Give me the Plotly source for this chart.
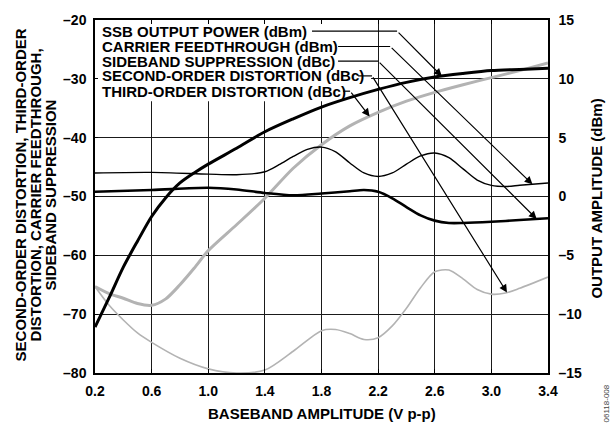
import numpy as np
import plotly.graph_objects as go

# ---------------- data ----------------
ssb_x = [0.2, 0.3, 0.4, 0.5, 0.6, 0.7, 0.8, 0.9, 1.0, 1.2, 1.4, 1.6, 1.8, 2.0, 2.2, 2.4, 2.6, 2.8, 3.0, 3.2, 3.4]
ssb_dbm = [-11.1, -8.6, -6.0, -3.8, -1.7, -0.1, 1.15, 2.0, 2.75, 4.1, 5.5, 6.6, 7.6, 8.4, 9.1, 9.7, 10.15, 10.45,
           10.7, 10.8, 10.9]

third_x = [0.2, 0.3, 0.4, 0.5, 0.6, 0.7, 0.8, 0.9, 1.0, 1.2, 1.4, 1.6, 1.8, 2.0, 2.2, 2.4, 2.6, 2.8, 3.0, 3.2, 3.4]
third_dbc = [-65.3, -66.5, -67.3, -68.2, -68.5, -67.4, -65.0, -62.2, -59.2, -54.8, -50.3, -45.2, -41.2, -38.0,
             -35.7, -33.8, -32.3, -31.0, -29.8, -28.6, -27.3]

second_x = [0.2, 0.3, 0.4, 0.5, 0.6, 0.8, 1.0, 1.2, 1.4, 1.6, 1.8, 1.9, 2.0, 2.1, 2.2, 2.3, 2.4, 2.5, 2.6, 2.7,
            2.8, 2.9, 3.0, 3.1, 3.2, 3.4]
second_dbc = [-65.3, -68.5, -71.0, -73.2, -74.8, -77.5, -79.3, -80.0, -79.5, -76.3, -72.8, -72.6, -73.3, -74.3,
              -74.0, -72.0, -69.0, -65.5, -62.8, -62.5, -64.0, -65.8, -66.6, -66.4, -65.6, -63.7]

carrier_x = [0.2, 0.6, 1.0, 1.2, 1.4, 1.5, 1.6, 1.7, 1.8, 1.9, 2.0, 2.1, 2.2, 2.3, 2.4, 2.5, 2.6, 2.7, 2.8, 2.9,
             3.0, 3.1, 3.2, 3.4]
carrier_dbm = [-46.0, -45.9, -46.2, -46.3, -45.8, -44.6, -43.2, -42.0, -41.6, -42.4, -44.3, -46.0, -46.6, -46.0,
               -44.5, -43.1, -42.6, -43.4, -45.3, -47.2, -48.1, -48.3, -48.1, -47.7]

sideband_x = [0.2, 0.6, 1.0, 1.2, 1.4, 1.6, 1.8, 2.0, 2.1, 2.2, 2.3, 2.4, 2.5, 2.6, 2.7, 2.8, 3.0, 3.2, 3.4]
sideband_dbc = [-49.2, -48.9, -48.5, -48.8, -49.4, -49.8, -49.5, -49.1, -48.9, -49.2, -50.3, -51.8, -53.2, -54.1,
                -54.5, -54.5, -54.3, -54.0, -53.7]

x_ticks = [0.2, 0.6, 1.0, 1.4, 1.8, 2.2, 2.6, 3.0, 3.4]
x_ticklabels = ["0.2", "0.6", "1.0", "1.4", "1.8", "2.2", "2.6", "3.0", "3.4"]
yl_ticks = [-80, -70, -60, -50, -40, -30, -20]
yl_ticklabels = ["–80", "–70", "–60", "–50", "–40", "–30", "–20"]
yr_ticks = [-15, -10, -5, 0, 5, 10, 15]
yr_ticklabels = ["–15", "–10", "–5", "0", "5", "10", "15"]

legend_labels = ["SSB OUTPUT POWER (dBm)", "CARRIER FEEDTHROUGH (dBm)", "SIDEBAND SUPPRESSION (dBc)",
                 "SECOND-ORDER DISTORTION (dBc)", "THIRD-ORDER DISTORTION (dBc)"]
legend_row_y = [-21.9, -24.5, -27.0, -29.5, -32.1]
leader_start_x = [1.733, 1.917, 1.917, 2.059, 1.952]
leader_bend_x = [2.334, 2.285, 2.200, 2.157, 2.002]
arrow_tip_x = [2.65, 3.29, 3.32, 3.11, 2.14]

YL = (-80, -20)
YR = (-15, 15)


def right_to_left(v):
    return YL[0] + (np.asarray(v) - YR[0]) * (YL[1] - YL[0]) / (YR[1] - YR[0])


FONT = "Liberation Sans, Arial, Helvetica, sans-serif"

fig = go.Figure()
fig.add_trace(go.Scatter(x=second_x, y=second_dbc, mode="lines", line=dict(color="#b3b3b3", width=1.6,
                                                                             shape="spline", smoothing=0.8)))
fig.add_trace(go.Scatter(x=third_x, y=third_dbc, mode="lines", line=dict(color="#b3b3b3", width=3,
                                                                           shape="spline", smoothing=0.8)))
fig.add_trace(go.Scatter(x=carrier_x, y=carrier_dbm, mode="lines", line=dict(color="black", width=1.4,
                                                                               shape="spline", smoothing=0.8)))
fig.add_trace(go.Scatter(x=sideband_x, y=sideband_dbc, mode="lines", line=dict(color="black", width=2.6,
                                                                                 shape="spline", smoothing=0.8)))
fig.add_trace(go.Scatter(x=ssb_x, y=ssb_dbm, mode="lines", yaxis="y2", line=dict(color="black", width=3,
                                                                                   shape="spline", smoothing=0.8)))

# white panel behind the label block (hides the grid there)
fig.add_shape(type="rect", xref="x", yref="y", x0=x_ticks[0], x1=2.15, y0=-33.8, y1=YL[1],
              fillcolor="white", line=dict(width=0), layer="between")

# labels with leader arrows
series_for_arrow = [
    (ssb_x, list(right_to_left(ssb_dbm))),
    (carrier_x, carrier_dbm),
    (sideband_x, sideband_dbc),
    (second_x, second_dbc),
    (third_x, third_dbc),
]
for lab, ry, sx, bx, tx, (sxs, sys) in zip(legend_labels, legend_row_y, leader_start_x, leader_bend_x,
                                           arrow_tip_x, series_for_arrow):
    fig.add_annotation(x=0.235, y=ry, xref="x", yref="y", text="<b>" + lab + "</b>", showarrow=False,
                       xanchor="left", yanchor="middle", font=dict(family=FONT, size=15, color="black"))
    fig.add_shape(type="line", xref="x", yref="y", x0=sx, x1=bx, y0=ry, y1=ry,
                  line=dict(color="black", width=1.2), layer="above")
    ty = float(np.interp(tx, sxs, sys))
    fig.add_annotation(x=tx, y=ty, xref="x", yref="y", ax=bx, ay=ry, axref="x", ayref="y", text="",
                       showarrow=True, arrowhead=2, arrowsize=1.3, arrowwidth=1.2, arrowcolor="black")

axis_font = dict(family=FONT, size=14, color="black", weight="bold")

fig.update_layout(
    width=613, height=427,
    margin=dict(l=95, r=65, t=13, b=54),
    paper_bgcolor="white", plot_bgcolor="white",
    showlegend=False,
    xaxis=dict(range=[x_ticks[0], x_ticks[-1]], tickvals=x_ticks, ticktext=x_ticklabels,
               showgrid=True, gridcolor="#1a1a1a", gridwidth=1, zeroline=False,
               showline=True, linecolor="black", linewidth=1.5, mirror="ticks",
               ticks="inside", ticklen=4, tickcolor="black", tickfont=axis_font, ticklabelstandoff=4),
    yaxis=dict(range=list(YL), tickvals=yl_ticks, ticktext=yl_ticklabels,
               showgrid=True, gridcolor="#1a1a1a", gridwidth=1, zeroline=False,
               showline=True, linecolor="black", linewidth=1.5, mirror=True,
               ticks="inside", ticklen=3, tickcolor="black", tickfont=axis_font, ticklabelstandoff=4),
    yaxis2=dict(range=list(YR), tickvals=yr_ticks, ticktext=yr_ticklabels, overlaying="y", side="right",
                showgrid=False, zeroline=False, showline=True, linecolor="black", linewidth=1.5,
                ticks="", tickfont=axis_font, ticklabelstandoff=6),
)

title_font = dict(family=FONT, size=15, color="black")
fig.add_annotation(x=0.501, y=-0.114, xref="paper", yref="paper", text="<b>BASEBAND AMPLITUDE (V p-p)</b>",
                   showarrow=False, xanchor="center", yanchor="middle", font=title_font)
left_title_lines = ["SECOND-ORDER DISTORTION, THIRD-ORDER", "DISTORTION, CARRIER FEEDTHROUGH,",
                    "SIDEBAND SUPPRESSION"]
for i, t in enumerate(left_title_lines):
    px = 20 + 15 * i
    fig.add_annotation(x=(px - 95) / 453, y=0.503, xref="paper", yref="paper", text="<b>" + t + "</b>",
                       showarrow=False, textangle=-90, xanchor="center", yanchor="middle", font=title_font)
fig.add_annotation(x=(597 - 95) / 453, y=0.494, xref="paper", yref="paper", text="<b>OUTPUT AMPLITUDE (dBm)</b>",
                   showarrow=False, textangle=-90, xanchor="center", yanchor="middle", font=title_font)
fig.add_annotation(x=(606 - 95) / 453, y=(373 - 404) / 360, xref="paper", yref="paper", text="06118-008",
                   showarrow=False, textangle=-90, xanchor="center", yanchor="middle",
                   font=dict(family=FONT, size=8, color="#444"))

fig.write_html("out.html", config={"displayModeBar": False},
               post_script="document.body.style.margin='0';document.body.style.overflow='hidden';")
